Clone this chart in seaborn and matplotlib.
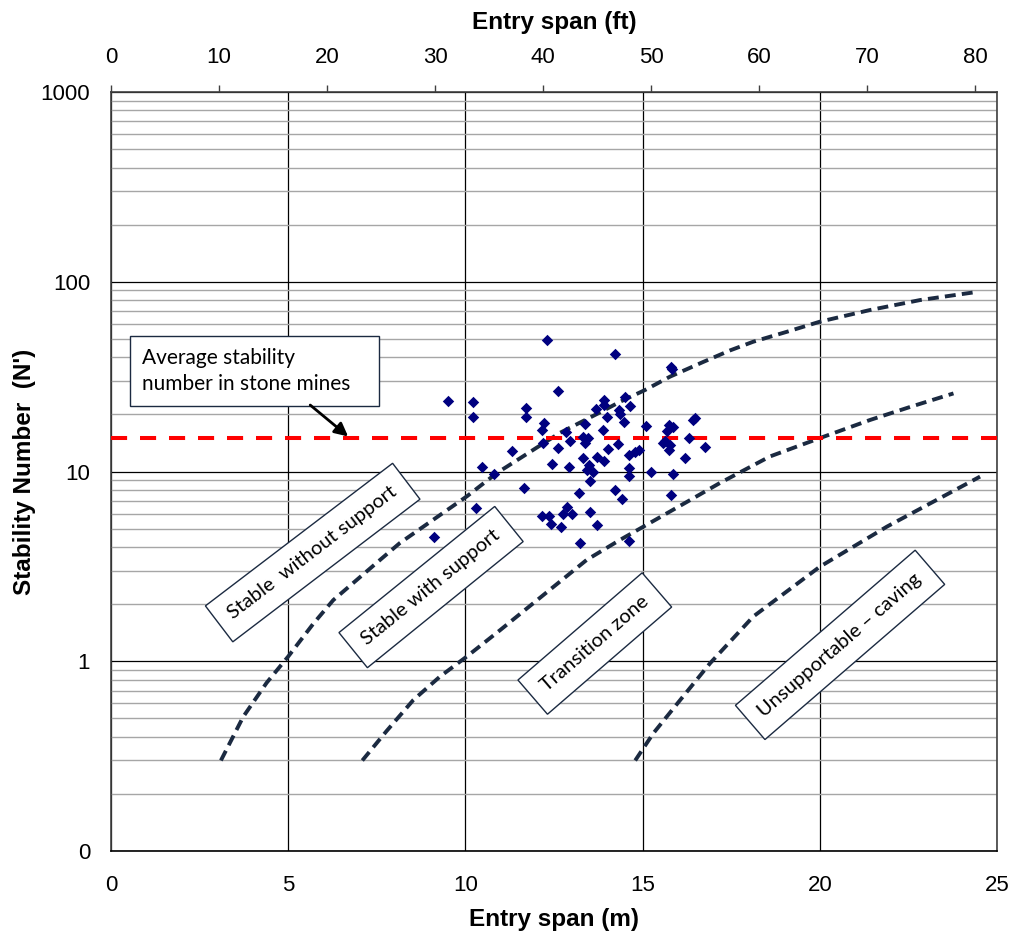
import matplotlib
matplotlib.use('Agg')
import matplotlib.pyplot as plt
import seaborn as sns
from matplotlib.ticker import FixedLocator, FixedFormatter, NullFormatter, LogLocator

# --- Data ---
# pillar/entry case histories: entry span (m) and stability number N'
span_m = [12.31, 14.22, 15.80, 15.82, 9.51, 10.21, 10.21, 12.61, 11.70, 11.70,
          12.21, 12.15, 13.91, 13.67, 13.91, 14.51, 14.64, 14.33, 14.36, 14.00,
          14.46, 13.37, 13.89, 15.10, 15.73, 15.68, 15.87, 16.43, 16.48, 12.84,
          13.33, 13.47, 13.37, 12.95, 12.20, 12.61, 11.31, 14.03, 14.31, 16.32,
          16.77, 15.58, 15.77, 15.73, 14.91, 14.79, 14.61, 13.31, 13.72, 13.91,
          16.20, 10.47, 12.44, 12.91, 13.50, 13.42, 13.59, 14.61, 14.61, 15.23,
          15.87, 10.81, 13.52, 11.64, 14.21, 14.42, 13.21, 15.79, 10.31, 12.86,
          12.76, 13.01, 12.16, 12.37, 12.42, 12.69, 13.52, 13.70, 9.11, 13.23,
          14.61, 15.63]
stab_n = [49.3, 41.6, 35.7, 34.7, 23.6, 23.2, 19.4, 26.6, 21.7, 19.3,
          18.1, 16.5, 23.8, 21.3, 22.4, 24.8, 22.1, 21.1, 20.1, 19.4,
          18.2, 17.9, 16.5, 17.4, 17.6, 16.3, 17.1, 18.7, 19.1, 16.2,
          15.2, 15.0, 14.2, 14.4, 14.1, 13.3, 12.8, 13.1, 14.0, 15.1,
          13.5, 14.1, 13.8, 13.0, 13.0, 12.7, 12.2, 11.8, 11.9, 11.4,
          11.8, 10.6, 10.9, 10.5, 10.8, 10.2, 9.9, 10.4, 9.5, 10.0,
          9.7, 9.7, 8.9, 8.2, 8.0, 7.2, 7.7, 7.5, 6.4, 6.5,
          6.0, 6.0, 5.8, 5.8, 5.3, 5.1, 6.1, 5.2, 4.5, 4.2,
          4.3, 14.4]

# zone boundaries (dashed curves)
bound1_x = [3.10, 3.73, 4.39, 5.00, 5.71, 6.27, 6.93, 7.59, 8.15, 10.04, 10.88, 12.67, 13.80,
            14.36, 15.07, 15.77, 16.71, 17.47, 18.12, 19.07, 20.0, 21.42, 22.83, 24.47]
bound1_y = [0.30, 0.51, 0.77, 1.06, 1.58, 2.10, 2.68, 3.42, 4.2, 7.4, 9.8, 16.0, 20.5,
            23.3, 26.9, 31.6, 37.8, 43.5, 48.3, 54.5, 61.6, 71.0, 80.1, 88.6]
bound2_x = [7.09, 7.78, 8.53, 9.28, 10.04, 10.98, 13.42, 14.36, 15.02, 16.24, 17.18, 18.59,
            20.0, 21.42, 22.55, 23.77]
bound2_y = [0.30, 0.43, 0.625, 0.83, 1.06, 1.46, 3.42, 4.36, 5.12, 6.9, 8.7, 12.0,
            15.0, 18.7, 21.9, 25.8]
bound3_x = [14.79, 15.30, 16.06, 16.90, 18.12, 20.0, 21.89, 24.52]
bound3_y = [0.30, 0.417, 0.625, 0.975, 1.72, 3.15, 5.12, 9.4]

# average N' in stone mines
avg_x = [0.0, 25.0]
avg_n = [15.0, 15.0]

y_ticks = [0.1, 1, 10, 100, 1000]
y_tick_labels = ['0', '1', '10', '100', '1000']
x_ticks = [0, 5, 10, 15, 20, 25]
ft_ticks = [0, 10, 20, 30, 40, 50, 60, 70, 80]

zone_labels = ['Stable  without support', 'Stable with support', 'Transition zone', 'Unsupportable \u2013 caving']
zone_label_x = [5.69, 9.03, 13.65, 20.57]
zone_label_y = [3.74, 2.46, 1.24, 1.22]
zone_label_rot = [37.3, 39.0, 40.8, 40.8]

# --- Plot ---
sns.set_style('white')
plt.rcParams['font.family'] = ['Liberation Sans', 'DejaVu Sans']
plt.rcParams['text.color'] = 'black'
plt.rcParams['axes.labelcolor'] = 'black'
plt.rcParams['xtick.color'] = 'black'
plt.rcParams['ytick.color'] = 'black'

fig = plt.figure(figsize=(10.14, 9.36), dpi=100)
ax = fig.add_axes([0.1095, 0.0908, 0.8738, 0.8109])
ax.set_yscale('log')
ax.set_xlim(0, 25)
ax.set_ylim(0.1, 1000)

# grid
ax.yaxis.set_minor_locator(LogLocator(base=10, subs=range(2, 10)))
ax.yaxis.set_minor_formatter(NullFormatter())
ax.grid(which='minor', axis='y', color='#a6a6a6', lw=1.0, zorder=0)
ax.grid(which='major', axis='both', color='black', lw=0.9, zorder=0)
ax.set_axisbelow(True)

navy = '#1b2a41'
for bx, by in [(bound1_x, bound1_y), (bound2_x, bound2_y), (bound3_x, bound3_y)]:
    sns.lineplot(x=bx, y=by, sort=False, estimator=None, color=navy, lw=2.8,
                 linestyle=(0, (2.8, 1.6)), ax=ax, zorder=3)

sns.lineplot(x=avg_x, y=avg_n, sort=False, estimator=None, color='#ff0000', lw=2.9,
             linestyle=(0, (4.0, 3.2)), ax=ax, zorder=4)

sns.scatterplot(x=span_m, y=stab_n, marker='D', color='#000080', s=34,
                linewidth=0, ax=ax, zorder=5)

# zone labels in rotated boxes
for txt, tx, ty, rot in zip(zone_labels, zone_label_x, zone_label_y, zone_label_rot):
    ax.text(tx, ty, txt, rotation=rot, rotation_mode='anchor', ha='center', va='center',
            fontsize=14.5, family=['Lato', 'DejaVu Sans'], zorder=6,
            bbox=dict(boxstyle='square,pad=0.7', fc='white', ec=navy, lw=1.0))

ax.text(0.88, 33.9, 'Average stability   \nnumber in stone mines   ', ha='left', va='center',
        fontsize=15, linespacing=1.35, family=['Lato', 'DejaVu Sans'], zorder=6,
        bbox=dict(boxstyle='square,pad=0.6', fc='white', ec=navy, lw=1.0))
ax.annotate('', xy=(6.69, 15.3), xytext=(5.62, 22.4), zorder=7,
            arrowprops=dict(arrowstyle='-|>', color='black', lw=2, mutation_scale=20,
                            shrinkA=0, shrinkB=0))

# axes, ticks, labels
ax.yaxis.set_major_locator(FixedLocator(y_ticks))
ax.yaxis.set_major_formatter(FixedFormatter(y_tick_labels))
ax.set_xticks(x_ticks)
ax.tick_params(axis='both', which='major', direction='out', length=5, width=1,
               color='#404040', labelcolor='black', labelsize=16)
ax.tick_params(axis='x', which='major', pad=12)
ax.tick_params(axis='y', which='major', pad=10)
ax.tick_params(which='minor', length=0)

for side in ['left', 'right', 'top', 'bottom']:
    ax.spines[side].set_color('#404040')
    ax.spines[side].set_linewidth(1.2)
ax.spines['bottom'].set_color('black')

ax.set_xlabel('Entry span (m)', fontsize=17.5, fontweight='bold', labelpad=9)
ax.set_ylabel("Stability Number  (N')", fontsize=17.5, fontweight='bold', labelpad=3)

secax = ax.secondary_xaxis('top', functions=(lambda m: m / 0.3048, lambda f: f * 0.3048))
secax.set_xticks(ft_ticks)
secax.tick_params(direction='out', length=5, width=1, color='#404040', labelcolor='black',
                  labelsize=16, pad=12)
secax.spines['top'].set_visible(False)
secax.set_xlabel('Entry span (ft)', fontsize=17.5, fontweight='bold', labelpad=13)

fig.savefig('out.png', dpi=100)
